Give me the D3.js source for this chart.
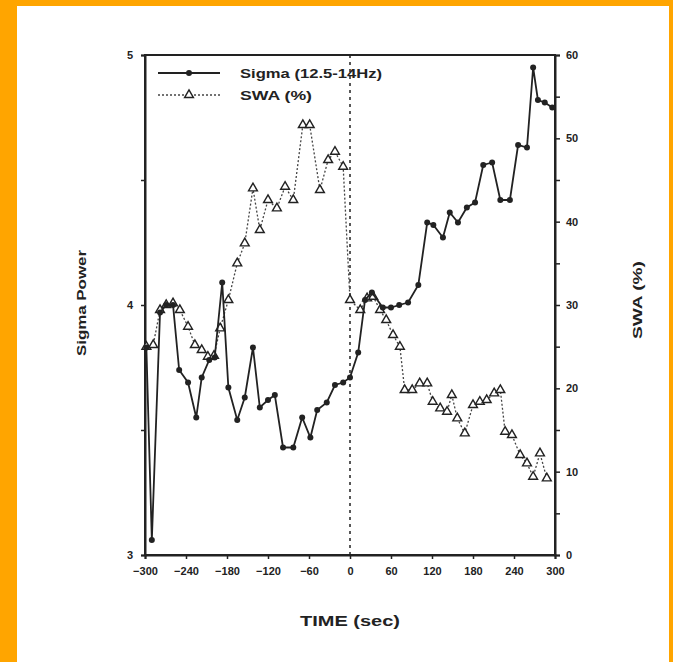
<!DOCTYPE html>
<html>
<head>
<meta charset="utf-8">
<script src="https://cdn.jsdelivr.net/npm/d3@7"></script>
<style>
  html, body { margin: 0; padding: 0; background: #FFA500; }
  svg { display: block; }
  text { font-family: "Liberation Sans", Arial, sans-serif; fill: #222; }
</style>
</head>
<body>
<svg id="chart" width="673" height="662"></svg>
<script>
// Sigma power (left axis) sampled around the transition at t = 0
const sigmaTime = [-298, -290, -278, -269, -259, -250, -237, -225, -217, -206, -198, -187,
  -178, -165, -154, -142, -132, -120, -110, -98, -83, -70, -58, -48, -34, -22, -10, 0,
  12, 22, 32, 48, 60, 72, 85, 100, 113, 122, 136, 146, 158, 171, 183, 195, 208, 220,
  234, 246, 259, 268, 275, 285, 296];
const sigmaPower = [3.83, 3.06, 3.97, 4.00, 4.00, 3.74, 3.69, 3.55, 3.71, 3.78, 3.79, 4.09,
  3.67, 3.54, 3.63, 3.83, 3.59, 3.62, 3.64, 3.43, 3.43, 3.55, 3.47, 3.58, 3.61, 3.68, 3.69, 3.71,
  3.81, 4.02, 4.05, 3.99, 3.99, 4.00, 4.01, 4.08, 4.33, 4.32, 4.27, 4.37, 4.33, 4.39, 4.41, 4.56,
  4.57, 4.42, 4.42, 4.64, 4.63, 4.95, 4.82, 4.81, 4.79];

// Slow-wave activity in percent (right axis)
const swaTime = [-298, -288, -278, -269, -259, -249, -237, -227, -217, -208, -199, -190,
  -178, -165, -154, -142, -132, -120, -107, -95, -83, -69, -59, -44, -32, -22, -10, 0,
  15, 25, 34, 44, 53, 63, 73, 80, 91, 102, 113, 121, 132, 142, 149, 157, 168, 180, 190,
  200, 211, 220, 227, 237, 249, 259, 268, 278, 288];
const swaPct = [25.0, 25.2, 29.4, 30.0, 30.2, 29.4, 27.4, 25.2, 24.6, 23.8, 23.9, 27.2,
  30.6, 35.0, 37.4, 44.0, 39.0, 42.6, 41.6, 44.2, 42.6, 51.6, 51.6, 43.8, 47.4, 48.4, 46.6, 30.6,
  29.4, 30.8, 31.0, 29.4, 28.2, 26.4, 25.0, 19.8, 19.8, 20.6, 20.6, 18.4, 17.6, 17.2, 19.2, 16.4,
  14.6, 18.0, 18.4, 18.6, 19.4, 19.8, 14.8, 14.4, 12.0, 11.0, 9.4, 12.2, 9.2];

// Axis ticks
const timeTicks = [-300, -240, -180, -120, -60, 0, 60, 120, 180, 240, 300];
const sigmaTicks = [3, 3.5, 4, 4.5, 5];
const sigmaTickLabels = ["3", "", "4", "", "5"];
const swaTicks = [0, 5, 10, 15, 20, 25, 30, 35, 40, 45, 50, 55, 60];
const swaTickLabels = ["0", "", "10", "", "20", "", "30", "", "40", "", "50", "", "60"];

const seriesNames = ["Sigma (12.5-14Hz)", "SWA (%)"];

const svg = d3.select("#chart");
const ink = "#222";

// white sheet over the orange surround
svg.append("rect").attr("x", 17).attr("y", 6).attr("width", 652).attr("height", 656)
  .attr("fill", "#fff");

const plot = { left: 145, right: 555, top: 55, bottom: 555 };

const x = d3.scaleLinear().domain([-300, 300]).range([plot.left, plot.right]);
const ySig = d3.scaleLinear().domain([3, 5]).range([plot.bottom, plot.top]);
const ySwa = d3.scaleLinear().domain([0, 60]).range([plot.bottom, plot.top]);

// frame
svg.append("rect")
  .attr("x", plot.left).attr("y", plot.top)
  .attr("width", plot.right - plot.left).attr("height", plot.bottom - plot.top)
  .attr("fill", "none").attr("stroke", ink).attr("stroke-width", 2);

// axes
const styleAxis = g => {
  g.select(".domain").attr("stroke", ink).attr("stroke-width", 2);
  g.selectAll(".tick line").attr("stroke", ink).attr("stroke-width", 1.5);
  g.selectAll(".tick text").attr("font-size", 11).attr("font-weight", "bold").attr("fill", ink);
};

svg.append("g")
  .attr("transform", `translate(0,${plot.bottom})`)
  .call(d3.axisBottom(x).tickValues(timeTicks).tickSize(4).tickPadding(8).tickFormat(d3.format("d")))
  .call(styleAxis);

svg.append("g")
  .attr("transform", `translate(${plot.left},0)`)
  .call(d3.axisLeft(ySig).tickValues(sigmaTicks).tickSize(4).tickPadding(8)
    .tickFormat((d, i) => sigmaTickLabels[i]))
  .call(styleAxis);

svg.append("g")
  .attr("transform", `translate(${plot.right},0)`)
  .call(d3.axisRight(ySwa).tickValues(swaTicks).tickSize(5).tickPadding(6)
    .tickFormat((d, i) => swaTickLabels[i]))
  .call(styleAxis);

// vertical reference at t = 0
svg.append("line")
  .attr("x1", x(0)).attr("x2", x(0))
  .attr("y1", plot.top).attr("y2", plot.bottom)
  .attr("stroke", ink).attr("stroke-width", 1.5).attr("stroke-dasharray", "3,4");

// SWA series: dotted line, open triangles
const swaData = swaTime.map((t, i) => ({ t, v: swaPct[i] }));
svg.append("path")
  .datum(swaData)
  .attr("fill", "none").attr("stroke", "#444").attr("stroke-width", 1.3)
  .attr("stroke-dasharray", "2,2")
  .attr("d", d3.line().x(d => x(d.t)).y(d => ySwa(d.v)));

const tri = d3.symbol().type(d3.symbolTriangle).size(34);
svg.append("g").selectAll("path")
  .data(swaData).join("path")
  .attr("d", tri)
  .attr("transform", d => `translate(${x(d.t)},${ySwa(d.v)})`)
  .attr("fill", "#fff").attr("stroke", ink).attr("stroke-width", 1.4);

// Sigma series: solid line, filled circles
const sigData = sigmaTime.map((t, i) => ({ t, v: sigmaPower[i] }));
svg.append("path")
  .datum(sigData)
  .attr("fill", "none").attr("stroke", ink).attr("stroke-width", 1.8)
  .attr("d", d3.line().x(d => x(d.t)).y(d => ySig(d.v)));

svg.append("g").selectAll("circle")
  .data(sigData).join("circle")
  .attr("cx", d => x(d.t)).attr("cy", d => ySig(d.v)).attr("r", 3)
  .attr("fill", ink);

// legend
const legend = svg.append("g");
legend.append("line").attr("x1", 158).attr("x2", 220).attr("y1", 73).attr("y2", 73)
  .attr("stroke", ink).attr("stroke-width", 1.8);
legend.append("circle").attr("cx", 189).attr("cy", 73).attr("r", 3).attr("fill", ink);
legend.append("line").attr("x1", 158).attr("x2", 220).attr("y1", 95).attr("y2", 95)
  .attr("stroke", "#444").attr("stroke-width", 1.3).attr("stroke-dasharray", "2,2");
legend.append("path").attr("d", tri).attr("transform", "translate(189,95)")
  .attr("fill", "#fff").attr("stroke", ink).attr("stroke-width", 1.4);
legend.append("text").attr("x", 240).attr("y", 78).attr("font-size", 13)
  .attr("font-weight", "bold").attr("textLength", 142).attr("lengthAdjust", "spacingAndGlyphs")
  .text(seriesNames[0]);
legend.append("text").attr("x", 240).attr("y", 100).attr("font-size", 13)
  .attr("font-weight", "bold").attr("textLength", 72).attr("lengthAdjust", "spacingAndGlyphs")
  .text(seriesNames[1]);

// axis titles
svg.append("text")
  .attr("x", 350).attr("y", 626).attr("text-anchor", "middle")
  .attr("font-size", 15).attr("font-weight", "bold")
  .attr("textLength", 100).attr("lengthAdjust", "spacingAndGlyphs")
  .text("TIME (sec)");

svg.append("text")
  .attr("transform", "translate(86,303) rotate(-90)")
  .attr("text-anchor", "middle").attr("font-size", 13).attr("font-weight", "bold")
  .attr("textLength", 106).attr("lengthAdjust", "spacingAndGlyphs")
  .text("Sigma Power");

svg.append("text")
  .attr("transform", "translate(642,300) rotate(-90)")
  .attr("text-anchor", "middle").attr("font-size", 13).attr("font-weight", "bold")
  .attr("textLength", 78).attr("lengthAdjust", "spacingAndGlyphs")
  .text("SWA (%)");
</script>
</body>
</html>
